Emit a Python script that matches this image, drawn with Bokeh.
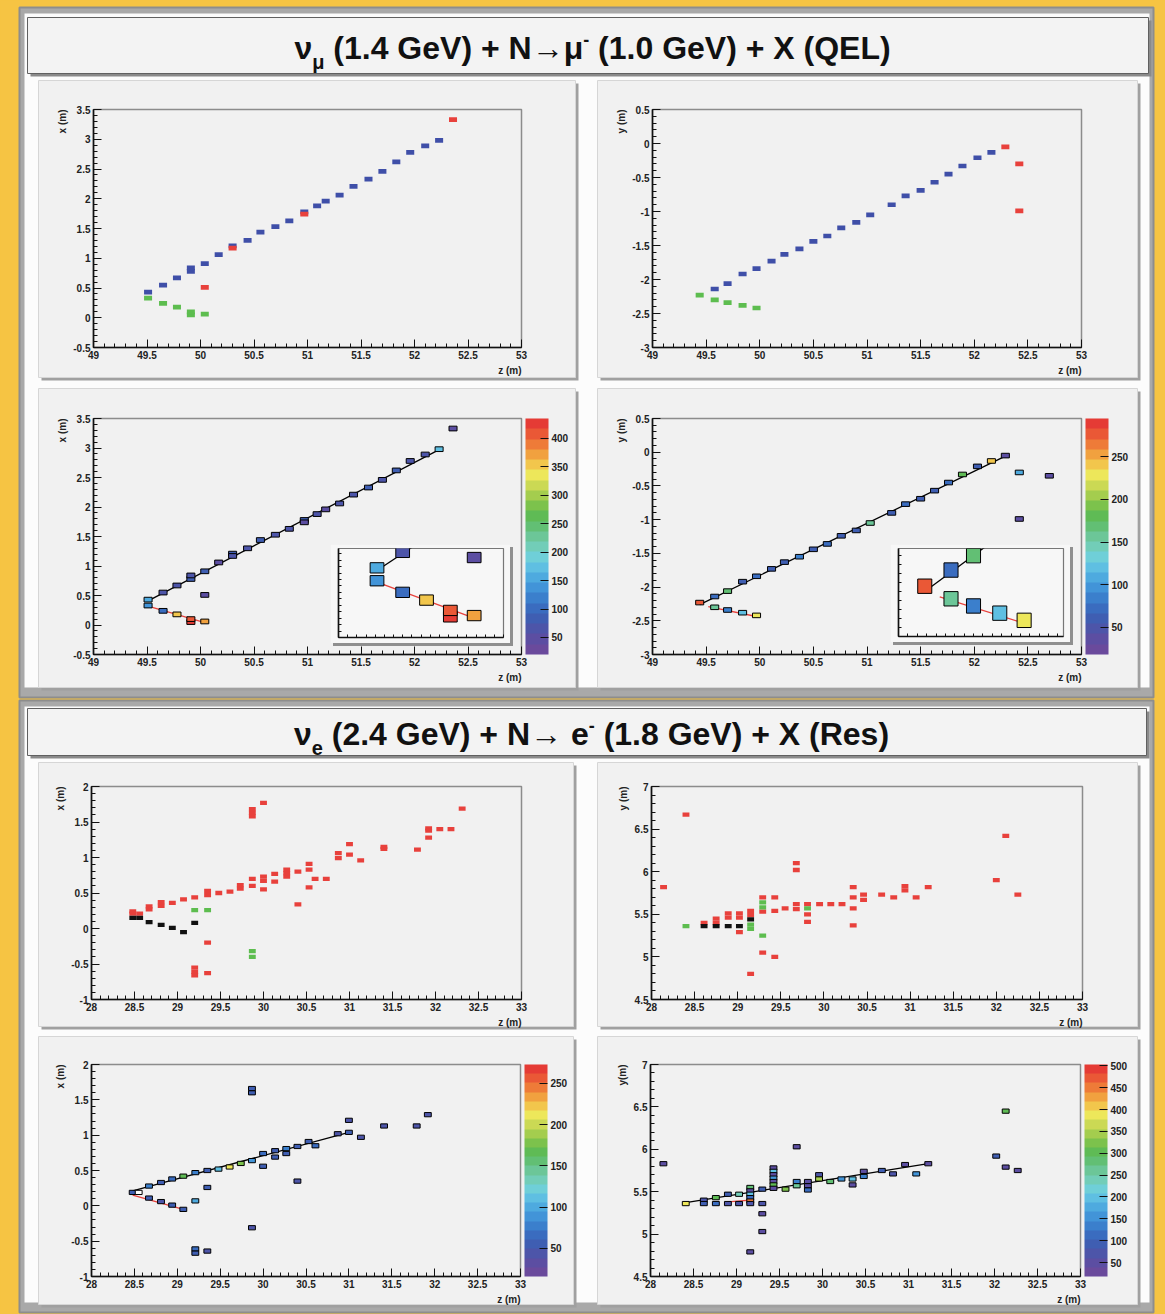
import numpy as np
from bokeh.plotting import figure
from bokeh.models import (Range1d, SingleIntervalTicker, PrintfTickFormatter, ColorBar,
                          LinearColorMapper, Title, Div, ColumnDataSource, FixedTicker)
from bokeh.layouts import column
from bokeh.embed import file_html
from bokeh.resources import INLINE

# ======================= DATA =======================
# ---- Event 1: nu_mu (1.4 GeV) QEL ----
# x-z view hits (m): particle id for the top views, deposited charge for the colz views
QEL_XZ_Z = [49.51, 49.65, 49.78, 49.91, 49.91, 50.04, 50.17, 50.30, 50.44, 50.56, 50.70, 50.83,
            50.97, 51.09, 51.17, 51.30, 51.43, 51.57, 51.70, 51.83, 51.96, 52.10, 52.23,
            52.36, 50.04, 50.97, 50.30,
            49.51, 49.65, 49.78, 49.91, 49.91, 50.04]
QEL_XZ_X = [0.43, 0.55, 0.67, 0.78, 0.84, 0.91, 1.06, 1.21, 1.30, 1.44, 1.53, 1.63,
            1.78, 1.88, 1.96, 2.06, 2.21, 2.33, 2.46, 2.62, 2.78, 2.89, 2.98,
            3.33, 0.51, 1.74, 1.17,
            0.33, 0.24, 0.18, 0.05, 0.10, 0.06]
QEL_XZ_ID = (["mu"] * 23) + (["other"] * 4) + (["p"] * 6)
QEL_XZ_Q = [150, 70, 60, 85, 65, 75, 55, 80, 60, 90, 70, 65,
            75, 60, 55, 70, 65, 80, 60, 75, 70, 60, 170,
            40, 40, 50, 60,
            140, 110, 360, 425, 410, 380]
QEL_XZ_FIT_MU = ([49.51, 52.24], [0.41, 2.98])
QEL_XZ_FIT_P = ([49.51, 50.04], [0.32, 0.04])

# y-z view hits
QEL_YZ_Z = [49.58, 49.70, 49.84, 49.97, 50.11, 50.23, 50.37, 50.50, 50.63, 50.76, 50.90, 51.03,
            51.23, 51.36, 51.50, 51.63, 51.76, 51.89, 52.03, 52.16,
            52.29, 52.42, 52.42,
            49.44, 49.58, 49.70, 49.84, 49.97]
QEL_YZ_Y = [-2.14, -2.06, -1.92, -1.84, -1.73, -1.63, -1.55, -1.44, -1.36, -1.24, -1.16, -1.05,
            -0.90, -0.77, -0.69, -0.57, -0.45, -0.33, -0.21, -0.13,
            -0.05, -0.30, -0.99,
            -2.23, -2.30, -2.34, -2.38, -2.42]
QEL_YZ_ID = (["mu"] * 20) + (["other"] * 3) + (["p"] * 5)
QEL_YZ_Q = [70, 170, 60, 75, 65, 55, 80, 60, 70, 65, 60, 160,
            55, 75, 60, 65, 70, 180, 60, 240,
            40, 110, 40,
            280, 160, 80, 120, 230]
QEL_YZ_EXTRA_Z = [52.70]
QEL_YZ_EXTRA_Y = [-0.35]
QEL_YZ_EXTRA_Q = [35]
QEL_YZ_FIT_MU = ([49.44, 52.30], [-2.26, -0.05])
QEL_YZ_FIT_P = ([49.52, 49.98], [-2.29, -2.44])

# ---- Event 2: nu_e (2.4 GeV) Res ----
RES_XZ_Z = [28.48, 28.48, 28.56, 28.67, 28.67, 28.81, 28.81, 28.94, 29.07, 29.20, 29.35, 29.35,
            29.48, 29.61, 29.73, 29.73, 29.87, 29.87, 29.87, 29.87, 29.87, 30.00, 30.00, 30.00,
            30.00, 30.13, 30.13, 30.27, 30.27, 30.27, 30.40, 30.40, 30.53, 30.53, 30.53, 30.60,
            30.73, 30.87, 30.87, 31.00, 31.00, 31.13, 31.40, 31.40, 31.79, 31.92, 31.92, 31.92,
            32.05, 32.18, 32.31, 29.35, 29.20, 29.20, 29.20, 29.35,
            29.20, 29.35, 29.87, 29.87,
            28.48, 28.56, 28.67, 28.81, 28.94, 29.07, 29.20]
RES_XZ_X = [0.21, 0.24, 0.21, 0.27, 0.31, 0.32, 0.37, 0.36, 0.41, 0.44, 0.47, 0.53,
            0.50, 0.52, 0.56, 0.61, 0.60, 0.70, 1.58, 1.63, 1.68, 1.77, 0.67, 0.73,
            0.55, 0.77, 0.66, 0.73, 0.78, 0.83, 0.80, 0.34, 0.91, 0.83, 0.58, 0.70,
            0.70, 1.06, 0.99, 1.19, 1.04, 0.96, 1.12, 1.15, 1.11, 1.38, 1.41, 1.28,
            1.40, 1.40, 1.69, -0.20, -0.55, -0.61, -0.66, -0.63,
            0.26, 0.26, -0.32, -0.40,
            0.15, 0.15, 0.09, 0.05, 0.01, -0.05, 0.08]
RES_XZ_ID = (["e"] * 56) + (["g"] * 4) + (["pi"] * 7)

RES_YZ_Z = [28.14, 28.40, 28.61, 28.75, 28.75, 28.89, 28.89, 29.02, 29.02, 29.02, 29.15, 29.15,
            29.29, 29.29, 29.29, 29.43, 29.43, 29.43, 29.55, 29.68, 29.68, 29.68, 29.68, 29.81,
            29.81, 29.81, 29.95, 30.08, 30.21, 30.34, 30.34, 30.34, 30.34, 30.46, 30.46, 30.67,
            30.81, 30.94, 30.94, 31.07, 31.21, 32.00, 32.11, 32.25, 29.15,
            28.40, 29.29, 29.29, 29.29, 29.15, 29.15, 29.81,
            28.61, 28.75, 28.89, 29.02, 29.15]
RES_YZ_Y = [5.82, 6.67, 5.40, 5.40, 5.45, 5.46, 5.51, 5.46, 5.51, 5.29, 5.49, 5.54,
            5.70, 5.53, 5.05, 5.70, 5.54, 5.00, 5.57, 6.10, 6.02, 5.56, 5.62, 5.62,
            5.50, 5.41, 5.62, 5.62, 5.62, 5.82, 5.70, 5.57, 5.37, 5.67, 5.73, 5.73,
            5.70, 5.78, 5.83, 5.70, 5.82, 5.90, 6.42, 5.73, 4.80,
            5.36, 5.58, 5.64, 5.25, 5.33, 5.38, 5.57,
            5.36, 5.36, 5.36, 5.36, 5.44]
RES_YZ_ID = (["e"] * 45) + (["g"] * 7) + (["pi"] * 5)

RES_XZ_RZ = [28.48, 28.55, 28.67, 28.81, 28.94, 29.07, 29.21, 29.35, 29.48, 29.61, 29.74, 29.87,
             30.00, 30.14, 30.27, 30.40, 30.53, 30.61, 30.87, 31.00, 31.00, 31.14, 31.41, 31.79,
             31.92, 29.87, 29.87, 29.87, 30.00, 30.14, 30.27, 30.40, 29.35, 29.21, 29.21, 29.21,
             29.35, 28.67, 28.81, 28.94, 29.07]
RES_XZ_RX = [0.19, 0.19, 0.28, 0.33, 0.38, 0.42, 0.47, 0.50, 0.52, 0.55, 0.60, 0.64,
             0.74, 0.78, 0.81, 0.84, 0.91, 0.85, 1.02, 1.04, 1.21, 0.97, 1.13, 1.13,
             1.29, 1.60, 1.66, -0.31, 0.56, 0.69, 0.74, 0.35, 0.26, 0.07, -0.61, -0.67,
             -0.64, 0.11, 0.06, 0.01, -0.05]
RES_XZ_RQ = [60, 10, 80, 60, 70, 170, 80, 60, 110, 210, 180, 90,
             70, 60, 80, 60, 50, 70, 40, 50, 45, 40, 40, 40,
             40, 60, 50, 40, 60, 50, 50, 45, 50, 100, 70, 60,
             45, 50, 45, 50, 60]
RES_XZ_FIT_E = ([28.48, 31.00], [0.21, 1.04])
RES_XZ_FIT_PI = ([28.48, 29.07], [0.15, -0.05])

RES_YZ_RZ = [28.15, 28.41, 28.62, 28.62, 28.76, 28.76, 28.90, 28.90, 29.03, 29.03, 29.16, 29.16,
             29.16, 29.16, 29.16, 29.16, 29.16, 29.30, 29.30, 29.30, 29.30, 29.43, 29.43, 29.43,
             29.43, 29.43, 29.43, 29.43, 29.57, 29.70, 29.70, 29.70, 29.83, 29.83, 29.83, 29.96,
             29.96, 30.09, 30.22, 30.35, 30.35, 30.48, 30.48, 30.69, 30.82, 30.96, 31.09, 31.23,
             32.02, 32.13, 32.13, 32.27]
RES_YZ_RY = [5.83, 5.36, 5.40, 5.36, 5.43, 5.36, 5.47, 5.36, 5.47, 5.36, 5.55, 5.51,
             5.47, 5.43, 5.39, 5.36, 4.79, 5.53, 5.36, 5.24, 5.03, 5.78, 5.74, 5.70,
             5.66, 5.62, 5.58, 5.54, 5.53, 5.62, 5.57, 6.03, 5.62, 5.57, 5.52, 5.70,
             5.65, 5.62, 5.65, 5.65, 5.58, 5.74, 5.68, 5.75, 5.71, 5.82, 5.71, 5.83,
             5.92, 6.45, 5.79, 5.75]
RES_YZ_RQ = [60, 390, 80, 90, 300, 110, 90, 70, 230, 80, 280, 60,
             200, 120, 450, 70, 50, 90, 70, 60, 55, 40, 200, 60,
             150, 50, 300, 60, 320, 130, 250, 50, 60, 40, 120, 70,
             350, 280, 150, 200, 40, 50, 130, 90, 70, 60, 160, 50,
             100, 300, 40, 60]
RES_YZ_FIT_E = ([28.41, 31.23], [5.37, 5.83])
RES_YZ_FIT_PI = ([28.90, 29.16], [5.38, 5.40])

# colour-scale ranges of the four colz views
CLIM = {"qxz": (20, 435), "qyz": (18, 295), "rxz": (16, 273), "ryz": (18, 503)}

SUB = '<span style="font-size:20px;position:relative;top:10px;">{}</span>'
SUP = '<span style="font-size:18px;position:relative;top:-13px;">{}</span>'
TITLE1 = "ν" + SUB.format("μ") + " (1.4 GeV) + N→μ" + SUP.format("-") + " (1.0 GeV) + X (QEL)"
TITLE2 = "ν" + SUB.format("e") + " (2.4 GeV) + N→ e" + SUP.format("-") + " (1.8 GeV) + X (Res)"

# ======================= STYLE =======================
ORANGE = "#F6C443"
FRAME_DARK = "#8d8d8d"
FRAME_GRAY = "#a9a9a9"
PANEL_BG = "#fcfcfc"
PAD_BG = "#f1f1f1"
SHADOW = "#a0a0a0"
FONT = "Liberation Sans"
CAT_COL = {"mu": "#3f4fa8", "other": "#e8413c", "p": "#5dbd4f",
           "e": "#e8413c", "g": "#5dbd4f", "pi": "#111111"}
PAL = ["#6a4a9c", "#5c4ea2", "#4d55a9", "#3f5eb2", "#3a6cbf", "#3b7fcc", "#4294d8",
       "#4eaadf", "#5fbfe2", "#6fcfd8", "#72cdb8", "#6cc698", "#62bf74", "#5fbb55",
       "#7cc24c", "#a4cd4e", "#cbd954", "#ede75a", "#f2c64c", "#f1a13f", "#ee7b38",
       "#ea5836", "#e53b35"]
LBL = "10px"


def place(obj, left, top, extra=None):
    st = {"position": "absolute", "left": f"{left}px", "top": f"{top}px"}
    if extra:
        st.update(extra)
    obj.styles = st


def style_axes(p):
    p.xaxis.ticker = SingleIntervalTicker(interval=0.5, num_minor_ticks=5)
    p.yaxis.ticker = SingleIntervalTicker(interval=0.5, num_minor_ticks=5)
    for ax in p.axis:
        ax.formatter = PrintfTickFormatter(format="%g")
        ax.major_tick_in = 8
        ax.major_tick_out = 0
        ax.minor_tick_in = 4
        ax.minor_tick_out = 0
        ax.axis_line_width = 1.6
        ax.axis_line_color = "#111111"
        ax.major_tick_line_color = "#111111"
        ax.minor_tick_line_color = "#111111"
        ax.major_label_text_font = FONT
        ax.major_label_text_font_style = "bold"
        ax.major_label_text_color = "#222222"
        ax.major_label_text_font_size = LBL
        ax.major_label_standoff = 3


ML, MT, MB = 64, 10, 36


def data_fig(frame, xr, yr, ylab, right=10):
    fl, ft, fr, fb = frame
    p = figure(width=(fr - fl) + ML + right, height=(fb - ft) + MT + MB,
               x_range=Range1d(*xr), y_range=Range1d(*yr),
               output_backend="svg", toolbar_location=None, title=None, frame_align=False,
               min_border_left=ML, min_border_right=right,
               min_border_top=MT, min_border_bottom=MB)
    place(p, fl - ML, ft - MT)
    p.border_fill_alpha = 0
    p.background_fill_color = PAD_BG
    p.outline_line_color = "#8c8c8c"
    p.outline_line_width = 1.5
    p.grid.visible = False
    style_axes(p)
    p.add_layout(Title(text="z (m)", align="right", text_font=FONT, text_font_size=LBL,
                       text_font_style="bold", text_color="#222222", standoff=2), "below")
    p.add_layout(Title(text=ylab, align="right", text_font=FONT, text_font_size=LBL,
                       text_font_style="bold", text_color="#222222", standoff=5), "left")
    return p


def cat_boxes(p, zs, vs, ids, w, h):
    src = ColumnDataSource(dict(z=zs, v=vs, c=[CAT_COL[i] for i in ids]))
    p.rect("z", "v", width=w, height=h, fill_color="c", line_color=None, source=src)


def q_boxes(p, zs, vs, qs, mapper, w, h):
    src = ColumnDataSource(dict(z=zs, v=vs, q=qs))
    p.rect("z", "v", width=w, height=h, source=src,
           fill_color={"field": "q", "transform": mapper}, line_color="#000000", line_width=1)


def add_cbar(p, mapper, fh):
    cb = ColorBar(color_mapper=mapper, width=23, height=fh, margin=0, padding=0,
                  location=(4, 0), ticker=SingleIntervalTicker(interval=50),
                  major_tick_in=8, major_tick_out=0, major_tick_line_color="#111111",
                  minor_tick_line_color=None,
                  major_label_text_font=FONT, major_label_text_font_size=LBL,
                  major_label_text_font_style="bold", major_label_text_color="#222222",
                  label_standoff=3, bar_line_color=None, border_line_color=None,
                  background_fill_alpha=0)
    p.add_layout(cb, "right")


def inset_fig(box, xr, yr):
    l, t, r, b = box
    p = figure(width=r - l, height=b - t, x_range=Range1d(*xr), y_range=Range1d(*yr),
               output_backend="svg", toolbar_location=None, title=None, frame_align=False,
               min_border_left=8, min_border_right=7, min_border_top=4, min_border_bottom=6)
    place(p, l, t, {"box-shadow": "3px 3px 0px #8f8f8f"})
    p.border_fill_color = "#f7f7f7"
    p.background_fill_color = "#f7f7f7"
    p.outline_line_color = "#777777"
    p.outline_line_width = 1.2
    p.grid.visible = False
    # tick marks only (no numbers in the zoomed inset)
    p.xaxis.ticker = FixedTicker(ticks=[], minor_ticks=list(np.round(np.arange(xr[0], xr[1], 0.05), 2)))
    p.yaxis.ticker = FixedTicker(ticks=[], minor_ticks=list(np.round(np.arange(yr[0], yr[1], 0.05), 2)))
    for ax in p.axis:
        ax.major_tick_out = 0
        ax.minor_tick_in = 3
        ax.minor_tick_out = 0
        ax.axis_line_width = 1.6
        ax.axis_line_color = "#111111"
        ax.minor_tick_line_color = "#111111"
        ax.major_label_standoff = 0
    return p


# ======================= LAYOUT GEOMETRY (pixels) =======================
PANELS = [(19, 7, 1153, 697), (19, 700, 1153, 1312)]
TITLES = [(27, 17, 1148, 73), (27, 708, 1146, 755)]
PADS = [(38, 80, 575, 377), (597, 80, 1137, 377), (38, 388, 575, 687), (597, 388, 1137, 687),
        (38, 762, 573, 1026), (597, 762, 1137, 1026), (38, 1036, 573, 1304), (597, 1036, 1137, 1304)]
FR_A = (93, 109, 521, 347)
FR_B = (652, 109, 1081, 347)
FR_C = (93, 418, 521, 654)
FR_D = (652, 418, 1081, 654)
FR_E = (91, 786, 521, 999)
FR_F = (651, 786, 1082, 999)
FR_G = (91, 1064, 520, 1276)
FR_H = (650, 1064, 1080, 1276)
INS_C = (330, 544, 510, 643)
INS_D = (890, 544, 1070, 642)

# ======================= BACKGROUND =======================
bg = figure(width=1165, height=1314, x_range=Range1d(0, 1165), y_range=Range1d(1314, 0),
            output_backend="svg", toolbar_location=None, title=None, frame_align=False,
            x_axis_type=None, y_axis_type=None, min_border=0)
place(bg, 0, 0)
bg.grid.visible = False
bg.outline_line_color = None
bg.background_fill_color = ORANGE
bg.border_fill_color = ORANGE
pl, pt, pr, pb = zip(*PANELS)
bg.quad(left=pl, right=pr, top=pt, bottom=pb, fill_color=FRAME_GRAY, line_color=FRAME_DARK, line_width=2)
bg.quad(left=[v + 5 for v in pl], right=[v - 4 for v in pr], top=[v + 6 for v in pt],
        bottom=[v - 10 for v in pb], fill_color=PANEL_BG, line_color=None)
tl, tt, tr, tb = zip(*TITLES)
bg.quad(left=[v + 3 for v in tl], right=[v + 3 for v in tr], top=[v + 3 for v in tt],
        bottom=[v + 3 for v in tb], fill_color="#8a8a8a", line_color=None)
bg.quad(left=tl, right=tr, top=tt, bottom=tb, fill_color="#f3f3f3", line_color="#606060", line_width=1)
dl, dt, dr, db = zip(*PADS)
bg.quad(left=[v + 3 for v in dl], right=[v + 3 for v in dr], top=[v + 3 for v in dt],
        bottom=[v + 3 for v in db], fill_color=SHADOW, line_color=None)
bg.quad(left=dl, right=dr, top=dt, bottom=db, fill_color=PAD_BG, line_color="#d6d6d6", line_width=1)

children = [bg]

for (l, t, r, b), txt in zip(TITLES, [TITLE1, TITLE2]):
    d = Div(text=(f'<div style="width:{r - l}px;height:{b - t}px;line-height:{b - t - 4}px;'
                  f'text-align:center;white-space:nowrap;'
                  f'font-family:\'Liberation Sans\',Arial,sans-serif;'
                  f'font-weight:bold;font-size:32px;color:#111;">{txt}</div>'),
            width=r - l, height=b - t)
    place(d, l, t)
    children.append(d)

# ---- Event 1 : category views ----
BW1, BH1 = 0.075, 0.08
pA = data_fig(FR_A, (49, 53), (-0.5, 3.5), "x (m)")
cat_boxes(pA, QEL_XZ_Z, QEL_XZ_X, QEL_XZ_ID, BW1, BH1)
pB = data_fig(FR_B, (49, 53), (-3, 0.5), "y (m)")
cat_boxes(pB, QEL_YZ_Z, QEL_YZ_Y, QEL_YZ_ID, BW1, BH1 * 0.85)

# ---- Event 1 : charge views ----
mC = LinearColorMapper(palette=PAL, low=CLIM["qxz"][0], high=CLIM["qxz"][1], low_color="white")
pC = data_fig(FR_C, (49, 53), (-0.5, 3.5), "x (m)", right=72)
pC.line(*QEL_XZ_FIT_MU, line_color="#000000", line_width=1.3)
pC.line(*QEL_XZ_FIT_P, line_color="#e8413c", line_width=1.3)
q_boxes(pC, QEL_XZ_Z, QEL_XZ_X, QEL_XZ_Q, mC, BW1, BH1)
add_cbar(pC, mC, FR_C[3] - FR_C[1])

mD = LinearColorMapper(palette=PAL, low=CLIM["qyz"][0], high=CLIM["qyz"][1], low_color="white")
pD = data_fig(FR_D, (49, 53), (-3, 0.5), "y (m)", right=72)
pD.line(*QEL_YZ_FIT_MU, line_color="#000000", line_width=1.3)
pD.line(*QEL_YZ_FIT_P, line_color="#e8413c", line_width=1.3)
q_boxes(pD, QEL_YZ_Z, QEL_YZ_Y, QEL_YZ_Q, mD, BW1, BH1 * 0.85)
q_boxes(pD, QEL_YZ_EXTRA_Z, QEL_YZ_EXTRA_Y, QEL_YZ_EXTRA_Q, mD, BW1, BH1 * 0.85)
add_cbar(pD, mD, FR_D[3] - FR_D[1])

# insets (zoom on the vertex)
iC = inset_fig(INS_C, (49.30, 50.20), (-0.11, 0.58))
iC.line(*QEL_XZ_FIT_MU, line_color="#000000", line_width=1.3)
iC.line(*QEL_XZ_FIT_P, line_color="#e8413c", line_width=1.3)
q_boxes(iC, QEL_XZ_Z, QEL_XZ_X, QEL_XZ_Q, mC, BW1, BH1)

iD = inset_fig(INS_D, (49.30, 50.18), (-2.51, -2.02))
iD.line(*QEL_YZ_FIT_MU, line_color="#000000", line_width=1.3)
iD.line(*QEL_YZ_FIT_P, line_color="#e8413c", line_width=1.3)
q_boxes(iD, QEL_YZ_Z, QEL_YZ_Y, QEL_YZ_Q, mD, BW1, BH1)

# ---- Event 2 ----
BW2 = 0.08
pE = data_fig(FR_E, (28, 33), (-1, 2), "x (m)")
cat_boxes(pE, RES_XZ_Z, RES_XZ_X, RES_XZ_ID, BW2, 0.06)
pF = data_fig(FR_F, (28, 33), (4.5, 7), "y (m)")
cat_boxes(pF, RES_YZ_Z, RES_YZ_Y, RES_YZ_ID, BW2, 0.05)

mG = LinearColorMapper(palette=PAL, low=CLIM["rxz"][0], high=CLIM["rxz"][1], low_color="white")
pG = data_fig(FR_G, (28, 33), (-1, 2), "x (m)", right=72)
pG.line(*RES_XZ_FIT_E, line_color="#000000", line_width=1.3)
pG.line(*RES_XZ_FIT_PI, line_color="#e8413c", line_width=1.3)
q_boxes(pG, RES_XZ_RZ, RES_XZ_RX, RES_XZ_RQ, mG, BW2, 0.06)
add_cbar(pG, mG, FR_G[3] - FR_G[1])

mH = LinearColorMapper(palette=PAL, low=CLIM["ryz"][0], high=CLIM["ryz"][1], low_color="white")
pH = data_fig(FR_H, (28, 33), (4.5, 7), "y(m)", right=72)
pH.line(*RES_YZ_FIT_E, line_color="#000000", line_width=1.3)
pH.line(*RES_YZ_FIT_PI, line_color="#e8413c", line_width=1.3)
q_boxes(pH, RES_YZ_RZ, RES_YZ_RY, RES_YZ_RQ, mH, BW2, 0.05)
add_cbar(pH, mH, FR_H[3] - FR_H[1])

children += [pA, pB, pC, pD, pE, pF, pG, pH, iC, iD]

root = column(children=children, width=1165, height=1314, sizing_mode="fixed",
              styles={"position": "relative", "background-color": ORANGE})

open("out.html", "w").write(file_html(root, INLINE))
